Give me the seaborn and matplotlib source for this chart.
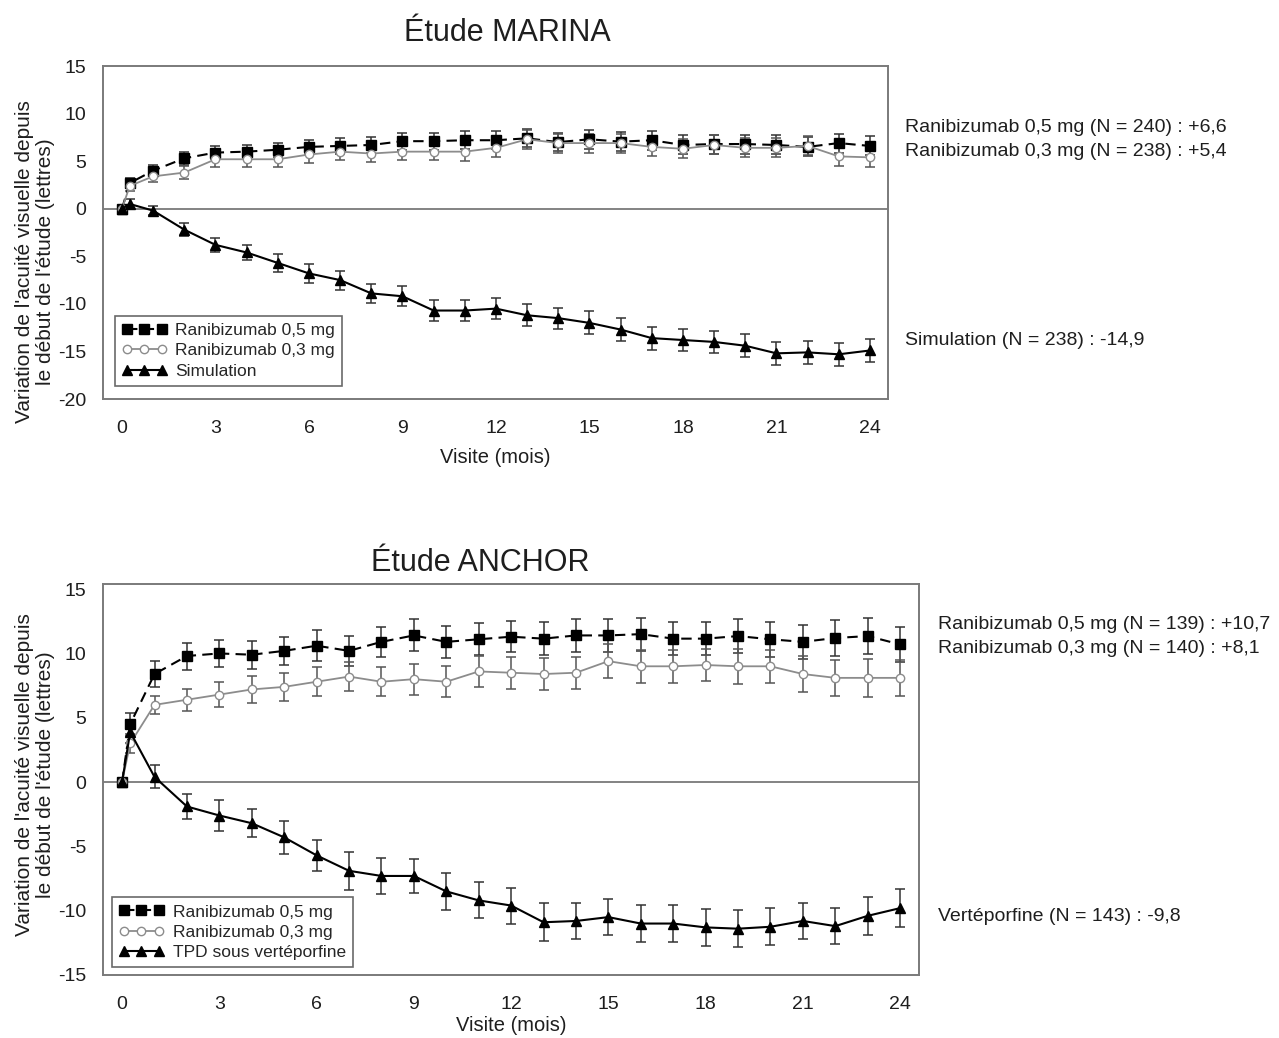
import numpy as np
import pandas as pd
import matplotlib
matplotlib.use('Agg')
import matplotlib.pyplot as plt
import seaborn as sns

# visit times (months); 0.25 ~ week 1
months = [0, 0.25] + list(range(1, 25))

# MARINA
marina_05 = [0, 2.7, 4.0, 5.3, 5.9, 6.0, 6.2, 6.5, 6.6, 6.7, 7.1, 7.1, 7.2, 7.2,
             7.4, 7.0, 7.3, 7.05, 7.2, 6.7, 6.8, 6.8, 6.7, 6.5, 6.9, 6.6]
marina_05_err = [0, 0.5, 0.6, 0.7, 0.7, 0.7, 0.75, 0.75, 0.8, 0.85, 0.9, 0.9, 0.95, 0.95,
                 0.95, 0.95, 1.0, 1.0, 1.0, 1.0, 1.0, 1.0, 1.0, 1.0, 1.0, 1.0]
marina_03 = [0, 2.4, 3.4, 3.8, 5.2, 5.2, 5.2, 5.7, 6.0, 5.8, 6.0, 6.0, 6.0, 6.4,
             7.3, 6.9, 6.9, 6.9, 6.5, 6.3, 6.7, 6.4, 6.4, 6.6, 5.5, 5.4]
marina_03_err = [0, 0.5, 0.6, 0.7, 0.8, 0.8, 0.8, 0.9, 0.9, 0.9, 0.9, 0.9, 1.0, 1.0,
                 1.0, 1.0, 1.0, 1.0, 1.0, 1.0, 1.0, 1.0, 1.0, 1.0, 1.0, 1.0]
marina_sim = [0, 0.5, -0.2, -2.2, -3.8, -4.6, -5.7, -6.8, -7.5, -8.9, -9.2, -10.7, -10.7, -10.5,
              -11.2, -11.5, -12.0, -12.7, -13.6, -13.8, -14.0, -14.4, -15.2, -15.1, -15.3, -14.9]
marina_sim_err = [0, 0.5, 0.5, 0.7, 0.7, 0.8, 0.9, 1.0, 1.0, 1.0, 1.05, 1.1, 1.1, 1.1,
                  1.15, 1.1, 1.2, 1.2, 1.2, 1.2, 1.2, 1.2, 1.2, 1.2, 1.2, 1.2]

# ANCHOR
anchor_05 = [0, 4.5, 8.4, 9.8, 10.0, 9.9, 10.2, 10.6, 10.2, 10.9, 11.4, 10.9, 11.1, 11.3,
             11.15, 11.4, 11.4, 11.5, 11.15, 11.15, 11.35, 11.1, 10.9, 11.2, 11.35, 10.7]
anchor_05_err = [0, 0.9, 1.0, 1.05, 1.07, 1.08, 1.07, 1.2, 1.15, 1.17, 1.24, 1.24, 1.25, 1.21,
                 1.3, 1.28, 1.25, 1.29, 1.3, 1.3, 1.3, 1.34, 1.3, 1.37, 1.39, 1.37]
anchor_03 = [0, 3.0, 6.0, 6.4, 6.8, 7.2, 7.4, 7.8, 8.2, 7.8, 8.0, 7.8, 8.6, 8.5,
             8.4, 8.5, 9.4, 9.0, 9.0, 9.1, 9.0, 9.0, 8.4, 8.1, 8.1, 8.1]
anchor_03_err = [0, 0.73, 0.72, 0.85, 1.0, 1.07, 1.08, 1.12, 1.1, 1.13, 1.2, 1.22, 1.21, 1.26,
                 1.26, 1.25, 1.3, 1.3, 1.3, 1.27, 1.37, 1.3, 1.37, 1.4, 1.46, 1.4]
anchor_vp = [0, 3.9, 0.4, -1.9, -2.6, -3.2, -4.3, -5.7, -6.9, -7.3, -7.3, -8.5, -9.2, -9.6,
             -10.9, -10.8, -10.5, -11.0, -11.0, -11.3, -11.4, -11.25, -10.8, -11.2, -10.4, -9.8]
anchor_vp_err = [0, 0.9, 0.9, 1.0, 1.17, 1.1, 1.3, 1.2, 1.47, 1.37, 1.35, 1.43, 1.4, 1.4,
                 1.46, 1.43, 1.42, 1.43, 1.42, 1.41, 1.43, 1.42, 1.43, 1.39, 1.47, 1.47]

YLABEL = "Variation de l'acuité visuelle depuis\nle début de l'étude (lettres)"
XLABEL = 'Visite (mois)'

SPINE = '#7a7a7a'
GREY = '#8c8c8c'
TXT = '#1e1e1e'


def draw_series(ax, y, err, label, style):
    ''' line + markers through seaborn, error bars on top '''
    df = pd.DataFrame({'mois': months, 'val': y})
    sns.lineplot(data=df, x='mois', y='val', ax=ax, label=label, errorbar=None,
                 color=style['color'], linestyle=style['ls'], linewidth=style['lw'],
                 marker=style['marker'], markersize=style['ms'],
                 markerfacecolor=style['mfc'], markeredgecolor=style['color'],
                 markeredgewidth=1.0, zorder=3)
    ax.errorbar(months, y, yerr=err, fmt='none', ecolor=style['ecolor'],
                elinewidth=1.1, capsize=3.5, capthick=1.1, zorder=2)


def style_axes(ax, ylim, yticks, xlim, xlabelpad):
    ax.set_xlim(*xlim)
    ax.set_ylim(*ylim)
    ax.set_yticks(yticks)
    ax.set_xticks(range(25))
    ax.set_xticklabels([str(m) if m % 3 == 0 else '' for m in range(25)])
    ax.axhline(0, color=SPINE, linewidth=1.3, zorder=1)
    for sp in ax.spines.values():
        sp.set_color(SPINE)
        sp.set_linewidth(1.4)
        sp.set_visible(True)
    ax.tick_params(axis='both', direction='out', length=7, width=1.2, color=SPINE,
                   labelsize=14, labelcolor=TXT, pad=5)
    ax.tick_params(axis='x', pad=8)
    ax.set_xlabel(XLABEL, fontsize=14.5, color=TXT, labelpad=xlabelpad)
    ax.set_ylabel('')
    leg = ax.legend(loc='lower left', numpoints=3, handlelength=2.6, fontsize=12.5,
                    frameon=True, fancybox=False, edgecolor='#444444',
                    borderaxespad=0, borderpad=0.4, labelspacing=0.3,
                    handletextpad=0.5)
    leg.get_frame().set_linewidth(1.2)
    return leg


sns.set_style('white')
plt.rcParams['font.family'] = ['Liberation Sans', 'DejaVu Sans']
plt.rcParams['axes.unicode_minus'] = False

fig = plt.figure(figsize=(12.79, 10.38), dpi=100)
ax1 = fig.add_axes([0.0805, 0.6156, 0.6138, 0.3208])
ax2 = fig.add_axes([0.0805, 0.0607, 0.6380, 0.3767])

s05 = dict(color='black', ls=(0, (5, 3)), lw=1.5, marker='s', ms=7, mfc='black', ecolor='#333333')
s03 = dict(color=GREY, ls='-', lw=1.3, marker='o', ms=6, mfc='white', ecolor='#555555')
ssim = dict(color='black', ls='-', lw=1.5, marker='^', ms=7, mfc='black', ecolor='#333333')

draw_series(ax1, marina_05, marina_05_err, 'Ranibizumab 0,5 mg', s05)
draw_series(ax1, marina_03, marina_03_err, 'Ranibizumab 0,3 mg', s03)
draw_series(ax1, marina_sim, marina_sim_err, 'Simulation', ssim)
leg1 = style_axes(ax1, (-20, 15), range(-20, 16, 5), (-0.61, 24.58), 8)
leg1.set_bbox_to_anchor((0.015, 0.04), transform=ax1.transAxes)

draw_series(ax2, anchor_05, anchor_05_err, 'Ranibizumab 0,5 mg', s05)
draw_series(ax2, anchor_03, anchor_03_err, 'Ranibizumab 0,3 mg', s03)
draw_series(ax2, anchor_vp, anchor_vp_err, 'TPD sous vertéporfine', ssim)
leg2 = style_axes(ax2, (-15, 15.4), range(-15, 16, 5), (-0.59, 24.58), 2)
leg2.set_bbox_to_anchor((0.011, 0.02), transform=ax2.transAxes)

# titles
fig.text(0.3964, 0.968, 'Étude MARINA', fontsize=22, ha='center', va='center', color=TXT)
fig.text(0.3753, 0.4576, 'Étude ANCHOR', fontsize=22, ha='center', va='center', color=TXT)

# y labels
fig.text(0.0275, 0.7476, YLABEL, rotation=90, fontsize=15, ha='center', va='center',
         multialignment='center', color=TXT, linespacing=1.15)
fig.text(0.0275, 0.2534, YLABEL, rotation=90, fontsize=15, ha='center', va='center',
         multialignment='center', color=TXT, linespacing=1.15)

# end values
ann = dict(fontsize=14, va='center', color=TXT)
fig.text(0.7076, 0.8767, 'Ranibizumab 0,5 mg (N = 240) : +6,6', **ann)
fig.text(0.7076, 0.8536, 'Ranibizumab 0,3 mg (N = 238) : +5,4', **ann)
fig.text(0.7076, 0.6724, 'Simulation (N = 238) : -14,9', **ann)
fig.text(0.7334, 0.3988, 'Ranibizumab 0,5 mg (N = 139) : +10,7', **ann)
fig.text(0.7334, 0.3757, 'Ranibizumab 0,3 mg (N = 140) : +8,1', **ann)
fig.text(0.7334, 0.1175, 'Vertéporfine (N = 143) : -9,8', **ann)

fig.savefig('out.png', dpi=100)
